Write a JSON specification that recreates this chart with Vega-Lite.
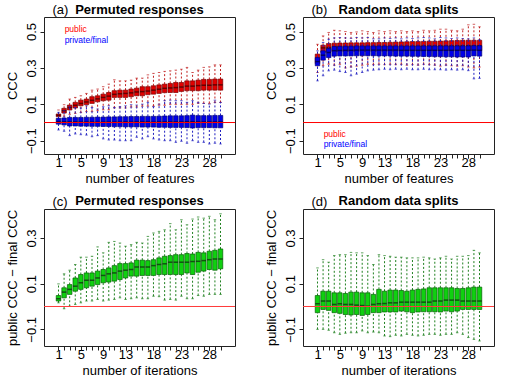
{
"$schema": "https://vega.github.io/schema/vega-lite/v6.json",
"padding": {"left": 5, "top": 3, "right": 0, "bottom": 0},
"columns": 2,
"spacing": {"row": 8, "column": 28},
"config": {
  "font": "Liberation Sans",
  "view": {"stroke": "#222", "strokeWidth": 1},
  "axis": {"domain": false, "grid": false, "tickSize": 4, "tickColor": "#222", "labelFontSize": 13, "titleFontSize": 13, "labelColor": "black", "titleColor": "black", "titleFontWeight": "normal", "labelOverlap": false, "labelFlush": false, "labelFont": "Liberation Sans", "titleFont": "Liberation Sans"},
  "axisX": {"labelPadding": -2, "titlePadding": 3},
  "axisY": {"labelAngle": -90, "labelAlign": "center", "labelBaseline": "bottom", "labelPadding": 2, "titlePadding": 9, "titleBaseline": "alphabetic"},
  "title": {"fontSize": 13, "fontWeight": "bold", "font": "Liberation Sans", "color": "black", "offset": -12.5, "anchor": "middle", "frame": "group"}
},
"datasets": {
"a_pub": [
{"x":1,"lo":0.020,"q1":0.032,"md":0.040,"q3":0.047,"hi":0.069},
{"x":2,"lo":0.035,"q1":0.052,"md":0.065,"q3":0.078,"hi":0.098},
{"x":3,"lo":0.045,"q1":0.069,"md":0.082,"q3":0.096,"hi":0.129},
{"x":4,"lo":0.050,"q1":0.080,"md":0.095,"q3":0.111,"hi":0.138},
{"x":5,"lo":0.055,"q1":0.092,"md":0.105,"q3":0.123,"hi":0.147},
{"x":6,"lo":0.060,"q1":0.098,"md":0.113,"q3":0.129,"hi":0.160},
{"x":7,"lo":0.060,"q1":0.105,"md":0.122,"q3":0.142,"hi":0.178},
{"x":8,"lo":0.065,"q1":0.114,"md":0.130,"q3":0.147,"hi":0.184},
{"x":9,"lo":0.070,"q1":0.120,"md":0.138,"q3":0.156,"hi":0.197},
{"x":10,"lo":0.070,"q1":0.123,"md":0.145,"q3":0.165,"hi":0.211},
{"x":11,"lo":0.080,"q1":0.138,"md":0.155,"q3":0.175,"hi":0.235},
{"x":12,"lo":0.080,"q1":0.138,"md":0.158,"q3":0.178,"hi":0.229},
{"x":13,"lo":0.080,"q1":0.138,"md":0.160,"q3":0.178,"hi":0.229},
{"x":14,"lo":0.085,"q1":0.142,"md":0.163,"q3":0.184,"hi":0.233},
{"x":15,"lo":0.085,"q1":0.147,"md":0.168,"q3":0.189,"hi":0.244},
{"x":16,"lo":0.090,"q1":0.147,"md":0.170,"q3":0.197,"hi":0.244},
{"x":17,"lo":0.090,"q1":0.153,"md":0.173,"q3":0.197,"hi":0.262},
{"x":18,"lo":0.090,"q1":0.156,"md":0.178,"q3":0.202,"hi":0.270},
{"x":19,"lo":0.095,"q1":0.160,"md":0.183,"q3":0.207,"hi":0.275},
{"x":20,"lo":0.095,"q1":0.164,"md":0.188,"q3":0.211,"hi":0.281},
{"x":21,"lo":0.100,"q1":0.165,"md":0.190,"q3":0.215,"hi":0.284},
{"x":22,"lo":0.100,"q1":0.165,"md":0.192,"q3":0.220,"hi":0.288},
{"x":23,"lo":0.100,"q1":0.171,"md":0.195,"q3":0.220,"hi":0.293},
{"x":24,"lo":0.100,"q1":0.175,"md":0.200,"q3":0.229,"hi":0.303},
{"x":25,"lo":0.100,"q1":0.175,"md":0.200,"q3":0.229,"hi":0.275},
{"x":26,"lo":0.105,"q1":0.175,"md":0.203,"q3":0.233,"hi":0.288},
{"x":27,"lo":0.105,"q1":0.178,"md":0.205,"q3":0.237,"hi":0.303},
{"x":28,"lo":0.105,"q1":0.178,"md":0.205,"q3":0.237,"hi":0.306},
{"x":29,"lo":0.110,"q1":0.178,"md":0.207,"q3":0.239,"hi":0.317},
{"x":30,"lo":0.110,"q1":0.178,"md":0.207,"q3":0.239,"hi":0.317}
],
"a_priv": [
{"x":1,"lo":-0.041,"q1":-0.009,"md":0.005,"q3":0.023,"hi":0.056},
{"x":2,"lo":-0.048,"q1":-0.013,"md":0.004,"q3":0.025,"hi":0.065},
{"x":3,"lo":-0.072,"q1":-0.019,"md":0.003,"q3":0.028,"hi":0.087},
{"x":4,"lo":-0.063,"q1":-0.019,"md":0.003,"q3":0.028,"hi":0.083},
{"x":5,"lo":-0.067,"q1":-0.020,"md":0.002,"q3":0.028,"hi":0.080},
{"x":6,"lo":-0.069,"q1":-0.020,"md":0.002,"q3":0.029,"hi":0.092},
{"x":7,"lo":-0.078,"q1":-0.021,"md":0.002,"q3":0.029,"hi":0.083},
{"x":8,"lo":-0.072,"q1":-0.021,"md":0.001,"q3":0.030,"hi":0.074},
{"x":9,"lo":-0.090,"q1":-0.022,"md":0.002,"q3":0.030,"hi":0.087},
{"x":10,"lo":-0.096,"q1":-0.022,"md":0.002,"q3":0.031,"hi":0.092},
{"x":11,"lo":-0.096,"q1":-0.023,"md":0.002,"q3":0.031,"hi":0.083},
{"x":12,"lo":-0.100,"q1":-0.023,"md":0.002,"q3":0.032,"hi":0.087},
{"x":13,"lo":-0.100,"q1":-0.024,"md":0.003,"q3":0.032,"hi":0.092},
{"x":14,"lo":-0.100,"q1":-0.024,"md":0.002,"q3":0.033,"hi":0.098},
{"x":15,"lo":-0.081,"q1":-0.024,"md":0.003,"q3":0.033,"hi":0.096},
{"x":16,"lo":-0.090,"q1":-0.025,"md":0.003,"q3":0.034,"hi":0.101},
{"x":17,"lo":-0.078,"q1":-0.025,"md":0.003,"q3":0.034,"hi":0.111},
{"x":18,"lo":-0.090,"q1":-0.025,"md":0.002,"q3":0.034,"hi":0.087},
{"x":19,"lo":-0.096,"q1":-0.026,"md":0.003,"q3":0.035,"hi":0.101},
{"x":20,"lo":-0.100,"q1":-0.026,"md":0.003,"q3":0.036,"hi":0.120},
{"x":21,"lo":-0.100,"q1":-0.027,"md":0.003,"q3":0.037,"hi":0.123},
{"x":22,"lo":-0.109,"q1":-0.027,"md":0.003,"q3":0.037,"hi":0.120},
{"x":23,"lo":-0.103,"q1":-0.027,"md":0.003,"q3":0.037,"hi":0.120},
{"x":24,"lo":-0.114,"q1":-0.028,"md":0.004,"q3":0.038,"hi":0.111},
{"x":25,"lo":-0.100,"q1":-0.030,"md":0.004,"q3":0.041,"hi":0.120},
{"x":26,"lo":-0.109,"q1":-0.028,"md":0.003,"q3":0.038,"hi":0.111},
{"x":27,"lo":-0.109,"q1":-0.028,"md":0.003,"q3":0.038,"hi":0.105},
{"x":28,"lo":-0.118,"q1":-0.028,"md":0.003,"q3":0.038,"hi":0.101},
{"x":29,"lo":-0.114,"q1":-0.029,"md":0.003,"q3":0.039,"hi":0.123},
{"x":30,"lo":-0.118,"q1":-0.029,"md":0.003,"q3":0.039,"hi":0.111}
],
"b_pub": [
{"x":1,"lo":0.275,"q1":0.324,"md":0.345,"q3":0.376,"hi":0.430},
{"x":2,"lo":0.312,"q1":0.385,"md":0.410,"q3":0.425,"hi":0.476},
{"x":3,"lo":0.321,"q1":0.390,"md":0.412,"q3":0.434,"hi":0.495},
{"x":4,"lo":0.315,"q1":0.390,"md":0.413,"q3":0.436,"hi":0.507},
{"x":5,"lo":0.320,"q1":0.391,"md":0.414,"q3":0.437,"hi":0.504},
{"x":6,"lo":0.300,"q1":0.391,"md":0.414,"q3":0.437,"hi":0.500},
{"x":7,"lo":0.305,"q1":0.391,"md":0.414,"q3":0.438,"hi":0.495},
{"x":8,"lo":0.310,"q1":0.391,"md":0.414,"q3":0.438,"hi":0.498},
{"x":9,"lo":0.315,"q1":0.391,"md":0.415,"q3":0.438,"hi":0.504},
{"x":10,"lo":0.320,"q1":0.391,"md":0.415,"q3":0.439,"hi":0.500},
{"x":11,"lo":0.318,"q1":0.391,"md":0.415,"q3":0.439,"hi":0.495},
{"x":12,"lo":0.320,"q1":0.392,"md":0.416,"q3":0.440,"hi":0.504},
{"x":13,"lo":0.318,"q1":0.392,"md":0.416,"q3":0.440,"hi":0.500},
{"x":14,"lo":0.320,"q1":0.392,"md":0.416,"q3":0.441,"hi":0.504},
{"x":15,"lo":0.318,"q1":0.392,"md":0.417,"q3":0.442,"hi":0.500},
{"x":16,"lo":0.320,"q1":0.392,"md":0.417,"q3":0.443,"hi":0.504},
{"x":17,"lo":0.315,"q1":0.393,"md":0.417,"q3":0.444,"hi":0.500},
{"x":18,"lo":0.318,"q1":0.393,"md":0.418,"q3":0.445,"hi":0.504},
{"x":19,"lo":0.315,"q1":0.393,"md":0.418,"q3":0.445,"hi":0.500},
{"x":20,"lo":0.320,"q1":0.393,"md":0.419,"q3":0.446,"hi":0.507},
{"x":21,"lo":0.318,"q1":0.394,"md":0.419,"q3":0.447,"hi":0.504},
{"x":22,"lo":0.315,"q1":0.394,"md":0.419,"q3":0.447,"hi":0.507},
{"x":23,"lo":0.310,"q1":0.394,"md":0.420,"q3":0.448,"hi":0.513},
{"x":24,"lo":0.315,"q1":0.394,"md":0.420,"q3":0.449,"hi":0.513},
{"x":25,"lo":0.312,"q1":0.394,"md":0.420,"q3":0.450,"hi":0.507},
{"x":26,"lo":0.310,"q1":0.395,"md":0.421,"q3":0.451,"hi":0.504},
{"x":27,"lo":0.312,"q1":0.395,"md":0.421,"q3":0.452,"hi":0.513},
{"x":28,"lo":0.305,"q1":0.395,"md":0.422,"q3":0.452,"hi":0.537},
{"x":29,"lo":0.300,"q1":0.395,"md":0.422,"q3":0.452,"hi":0.540},
{"x":30,"lo":0.305,"q1":0.395,"md":0.422,"q3":0.452,"hi":0.526}
],
"b_priv": [
{"x":1,"lo":0.229,"q1":0.312,"md":0.335,"q3":0.357,"hi":0.394},
{"x":2,"lo":0.257,"q1":0.343,"md":0.370,"q3":0.394,"hi":0.440},
{"x":3,"lo":0.284,"q1":0.357,"md":0.385,"q3":0.407,"hi":0.458},
{"x":4,"lo":0.288,"q1":0.365,"md":0.395,"q3":0.418,"hi":0.465},
{"x":5,"lo":0.280,"q1":0.366,"md":0.396,"q3":0.419,"hi":0.467},
{"x":6,"lo":0.275,"q1":0.366,"md":0.397,"q3":0.420,"hi":0.465},
{"x":7,"lo":0.257,"q1":0.366,"md":0.397,"q3":0.420,"hi":0.463},
{"x":8,"lo":0.266,"q1":0.367,"md":0.398,"q3":0.421,"hi":0.467},
{"x":9,"lo":0.275,"q1":0.367,"md":0.398,"q3":0.421,"hi":0.465},
{"x":10,"lo":0.284,"q1":0.367,"md":0.398,"q3":0.421,"hi":0.467},
{"x":11,"lo":0.288,"q1":0.367,"md":0.398,"q3":0.421,"hi":0.460},
{"x":12,"lo":0.290,"q1":0.366,"md":0.398,"q3":0.421,"hi":0.460},
{"x":13,"lo":0.293,"q1":0.366,"md":0.398,"q3":0.421,"hi":0.465},
{"x":14,"lo":0.290,"q1":0.366,"md":0.398,"q3":0.421,"hi":0.462},
{"x":15,"lo":0.293,"q1":0.365,"md":0.398,"q3":0.421,"hi":0.465},
{"x":16,"lo":0.290,"q1":0.365,"md":0.397,"q3":0.421,"hi":0.460},
{"x":17,"lo":0.293,"q1":0.365,"md":0.397,"q3":0.421,"hi":0.465},
{"x":18,"lo":0.290,"q1":0.364,"md":0.397,"q3":0.421,"hi":0.462},
{"x":19,"lo":0.290,"q1":0.364,"md":0.397,"q3":0.421,"hi":0.465},
{"x":20,"lo":0.293,"q1":0.363,"md":0.397,"q3":0.421,"hi":0.467},
{"x":21,"lo":0.290,"q1":0.363,"md":0.397,"q3":0.421,"hi":0.465},
{"x":22,"lo":0.290,"q1":0.362,"md":0.397,"q3":0.421,"hi":0.460},
{"x":23,"lo":0.290,"q1":0.362,"md":0.397,"q3":0.421,"hi":0.467},
{"x":24,"lo":0.288,"q1":0.361,"md":0.397,"q3":0.421,"hi":0.465},
{"x":25,"lo":0.290,"q1":0.361,"md":0.397,"q3":0.421,"hi":0.462},
{"x":26,"lo":0.288,"q1":0.360,"md":0.397,"q3":0.421,"hi":0.465},
{"x":27,"lo":0.290,"q1":0.360,"md":0.397,"q3":0.421,"hi":0.462},
{"x":28,"lo":0.285,"q1":0.360,"md":0.397,"q3":0.421,"hi":0.460},
{"x":29,"lo":0.240,"q1":0.366,"md":0.398,"q3":0.422,"hi":0.465},
{"x":30,"lo":0.243,"q1":0.365,"md":0.397,"q3":0.422,"hi":0.455}
],
"c": [
{"x":1,"lo":0.016,"q1":0.024,"md":0.034,"q3":0.048,"hi":0.099},
{"x":2,"lo":-0.010,"q1":0.038,"md":0.063,"q3":0.082,"hi":0.143},
{"x":3,"lo":0.001,"q1":0.053,"md":0.075,"q3":0.096,"hi":0.159},
{"x":4,"lo":0.009,"q1":0.067,"md":0.089,"q3":0.125,"hi":0.184},
{"x":5,"lo":0.016,"q1":0.075,"md":0.104,"q3":0.140,"hi":0.216},
{"x":6,"lo":0.024,"q1":0.082,"md":0.115,"q3":0.147,"hi":0.216},
{"x":7,"lo":0.024,"q1":0.089,"md":0.115,"q3":0.147,"hi":0.220},
{"x":8,"lo":0.031,"q1":0.096,"md":0.125,"q3":0.155,"hi":0.261},
{"x":9,"lo":0.024,"q1":0.104,"md":0.136,"q3":0.162,"hi":0.235},
{"x":10,"lo":0.028,"q1":0.107,"md":0.143,"q3":0.169,"hi":0.281},
{"x":11,"lo":0.031,"q1":0.111,"md":0.147,"q3":0.179,"hi":0.285},
{"x":12,"lo":0.038,"q1":0.118,"md":0.155,"q3":0.188,"hi":0.278},
{"x":13,"lo":0.031,"q1":0.125,"md":0.159,"q3":0.188,"hi":0.264},
{"x":14,"lo":0.034,"q1":0.133,"md":0.162,"q3":0.191,"hi":0.271},
{"x":15,"lo":0.038,"q1":0.133,"md":0.173,"q3":0.203,"hi":0.281},
{"x":16,"lo":0.034,"q1":0.136,"md":0.173,"q3":0.203,"hi":0.278},
{"x":17,"lo":0.034,"q1":0.136,"md":0.173,"q3":0.201,"hi":0.307},
{"x":18,"lo":0.045,"q1":0.136,"md":0.179,"q3":0.205,"hi":0.322},
{"x":19,"lo":0.043,"q1":0.140,"md":0.184,"q3":0.213,"hi":0.329},
{"x":20,"lo":0.028,"q1":0.140,"md":0.187,"q3":0.220,"hi":0.336},
{"x":21,"lo":0.031,"q1":0.140,"md":0.194,"q3":0.223,"hi":0.363},
{"x":22,"lo":0.028,"q1":0.140,"md":0.194,"q3":0.227,"hi":0.336},
{"x":23,"lo":0.045,"q1":0.140,"md":0.194,"q3":0.227,"hi":0.380},
{"x":24,"lo":0.034,"q1":0.147,"md":0.194,"q3":0.232,"hi":0.358},
{"x":25,"lo":0.034,"q1":0.140,"md":0.197,"q3":0.230,"hi":0.383},
{"x":26,"lo":0.048,"q1":0.150,"md":0.198,"q3":0.237,"hi":0.392},
{"x":27,"lo":0.045,"q1":0.155,"md":0.201,"q3":0.235,"hi":0.387},
{"x":28,"lo":0.053,"q1":0.162,"md":0.205,"q3":0.242,"hi":0.395},
{"x":29,"lo":0.053,"q1":0.159,"md":0.208,"q3":0.246,"hi":0.380},
{"x":30,"lo":0.053,"q1":0.165,"md":0.208,"q3":0.252,"hi":0.406}
],
"d": [
{"x":1,"lo":-0.100,"q1":-0.027,"md":0.012,"q3":0.048,"hi":0.169},
{"x":2,"lo":-0.100,"q1":-0.013,"md":0.024,"q3":0.067,"hi":0.205},
{"x":3,"lo":-0.104,"q1":-0.017,"md":0.024,"q3":0.067,"hi":0.194},
{"x":4,"lo":-0.115,"q1":-0.027,"md":0.009,"q3":0.060,"hi":0.223},
{"x":5,"lo":-0.122,"q1":-0.030,"md":0.012,"q3":0.060,"hi":0.227},
{"x":6,"lo":-0.117,"q1":-0.035,"md":0.009,"q3":0.057,"hi":0.227},
{"x":7,"lo":-0.115,"q1":-0.037,"md":0.009,"q3":0.063,"hi":0.237},
{"x":8,"lo":-0.115,"q1":-0.035,"md":0.006,"q3":0.063,"hi":0.235},
{"x":9,"lo":-0.107,"q1":-0.039,"md":0.004,"q3":0.060,"hi":0.235},
{"x":10,"lo":-0.115,"q1":-0.035,"md":0.001,"q3":0.060,"hi":0.223},
{"x":11,"lo":-0.112,"q1":-0.027,"md":0.009,"q3":0.053,"hi":0.184},
{"x":12,"lo":-0.115,"q1":-0.027,"md":0.012,"q3":0.075,"hi":0.227},
{"x":13,"lo":-0.129,"q1":-0.024,"md":0.013,"q3":0.067,"hi":0.223},
{"x":14,"lo":-0.132,"q1":-0.024,"md":0.016,"q3":0.072,"hi":0.220},
{"x":15,"lo":-0.126,"q1":-0.024,"md":0.016,"q3":0.072,"hi":0.216},
{"x":16,"lo":-0.129,"q1":-0.020,"md":0.019,"q3":0.070,"hi":0.216},
{"x":17,"lo":-0.122,"q1":-0.023,"md":0.019,"q3":0.067,"hi":0.213},
{"x":18,"lo":-0.126,"q1":-0.027,"md":0.019,"q3":0.072,"hi":0.213},
{"x":19,"lo":-0.129,"q1":-0.024,"md":0.019,"q3":0.075,"hi":0.213},
{"x":20,"lo":-0.126,"q1":-0.023,"md":0.019,"q3":0.077,"hi":0.216},
{"x":21,"lo":-0.122,"q1":-0.023,"md":0.019,"q3":0.082,"hi":0.213},
{"x":22,"lo":-0.122,"q1":-0.023,"md":0.024,"q3":0.082,"hi":0.208},
{"x":23,"lo":-0.126,"q1":-0.024,"md":0.024,"q3":0.082,"hi":0.213},
{"x":24,"lo":-0.122,"q1":-0.020,"md":0.028,"q3":0.082,"hi":0.220},
{"x":25,"lo":-0.122,"q1":-0.023,"md":0.028,"q3":0.082,"hi":0.208},
{"x":26,"lo":-0.115,"q1":-0.020,"md":0.028,"q3":0.079,"hi":0.220},
{"x":27,"lo":-0.122,"q1":-0.013,"md":0.024,"q3":0.079,"hi":0.220},
{"x":28,"lo":-0.136,"q1":-0.013,"md":0.024,"q3":0.082,"hi":0.223},
{"x":29,"lo":-0.144,"q1":-0.013,"md":0.024,"q3":0.085,"hi":0.246},
{"x":30,"lo":-0.151,"q1":-0.013,"md":0.024,"q3":0.085,"hi":0.235}
]
},
"concat": [
{
 "width": 191, "height": 137,
 "title": "Permuted responses",
 "resolve": {"axis": {"x": "independent"}},
 "layer": [
  {"data": {"name": "a_pub"},
   "encoding": {"x": {"field": "x", "type": "quantitative", "scale": {"domain": [-0.7, 31.7], "nice": false, "zero": false}, "title": "number of features", "axis": {"orient": "bottom", "values": [1,5,9,13,18,23,28], "labelOverlap": false}}},
   "layer": [
    {"mark": {"type": "rule", "strokeDash": [2, 2], "color": "#c02020"}, "encoding": {"y": {"field": "lo", "type": "quantitative", "scale": {"domain": [-0.173, 0.58], "nice": false, "zero": false}, "title": "CCC", "axis": {"values": [-0.1, 0, 0.1, 0.2, 0.3, 0.4, 0.5], "format": ".1f", "labelOverlap": false, "labelExpr": "indexof([-0.1, 0.1, 0.3, 0.5], datum.value) >= 0 ? datum.label : ''"}}, "y2": {"field": "q1"}}},
    {"mark": {"type": "rule", "strokeDash": [2, 2], "color": "#c02020"}, "encoding": {"y": {"field": "q3", "type": "quantitative"}, "y2": {"field": "hi"}}},
    {"mark": {"type": "tick", "orient": "horizontal", "size": 2.5, "thickness": 1, "color": "#c02020"}, "encoding": {"y": {"field": "lo", "type": "quantitative"}}},
    {"mark": {"type": "tick", "orient": "horizontal", "size": 2.5, "thickness": 1, "color": "#c02020"}, "encoding": {"y": {"field": "hi", "type": "quantitative"}}},
    {"mark": {"type": "bar", "size": 4.5, "fill": "#e00000", "stroke": "#7a0000", "strokeWidth": 0.7}, "encoding": {"y": {"field": "q1", "type": "quantitative"}, "y2": {"field": "q3"}}},
    {"mark": {"type": "tick", "orient": "horizontal", "size": 4.5, "thickness": 1.5, "color": "#300000"}, "encoding": {"y": {"field": "md", "type": "quantitative"}}}
   ]},
  {"data": {"name": "a_priv"},
   "encoding": {"x": {"field": "x", "type": "quantitative", "axis": null}},
   "layer": [
    {"mark": {"type": "rule", "strokeDash": [2, 2], "color": "#2020c0"}, "encoding": {"y": {"field": "lo", "type": "quantitative"}, "y2": {"field": "q1"}}},
    {"mark": {"type": "rule", "strokeDash": [2, 2], "color": "#2020c0"}, "encoding": {"y": {"field": "q3", "type": "quantitative"}, "y2": {"field": "hi"}}},
    {"mark": {"type": "tick", "orient": "horizontal", "size": 2.5, "thickness": 1, "color": "#2020c0"}, "encoding": {"y": {"field": "lo", "type": "quantitative"}}},
    {"mark": {"type": "tick", "orient": "horizontal", "size": 2.5, "thickness": 1, "color": "#2020c0"}, "encoding": {"y": {"field": "hi", "type": "quantitative"}}},
    {"mark": {"type": "bar", "size": 4.5, "fill": "#0000e8", "stroke": "#00007a", "strokeWidth": 0.7}, "encoding": {"y": {"field": "q1", "type": "quantitative"}, "y2": {"field": "q3"}}},
    {"mark": {"type": "tick", "orient": "horizontal", "size": 4.5, "thickness": 1.5, "color": "#000030"}, "encoding": {"y": {"field": "md", "type": "quantitative"}}}
   ]},
  {"data": {"values": [{"z": 0}]}, "mark": {"type": "rule", "color": "#ff0000", "strokeWidth": 1}, "encoding": {"y": {"field": "z", "type": "quantitative"}}},
  {"data": {"values": [{"t": "public", "s": "public", "x": 2.1, "y": 0.513}, {"t": "private/final", "s": "private", "x": 2.1, "y": 0.454}]},
   "mark": {"type": "text", "align": "left", "baseline": "middle", "fontSize": 8.5},
   "encoding": {"x": {"field": "x", "type": "quantitative", "axis": null}, "y": {"field": "y", "type": "quantitative"}, "text": {"field": "t"}, "color": {"field": "s", "type": "nominal", "scale": {"domain": ["public", "private"], "range": ["#ff0000", "#0000ff"]}, "legend": null}}},
  {"data": {"values": [{"t": "(a)", "x": -0.07, "y": 0.596}]},
   "mark": {"type": "text", "align": "left", "baseline": "alphabetic", "fontSize": 13, "color": "black"},
   "encoding": {"x": {"field": "x", "type": "quantitative", "title": null, "axis": {"orient": "bottom", "values": [1,2,3,4,5,6,7,8,9,10,11,12,13,14,15,16,17,18,19,20,21,22,23,24,25,26,27,28,29,30], "labels": false}}, "y": {"field": "y", "type": "quantitative"}, "text": {"field": "t"}}}
 ]
},
{
 "width": 191, "height": 137,
 "title": "Random data splits",
 "resolve": {"axis": {"x": "independent"}},
 "layer": [
  {"data": {"name": "b_pub"},
   "encoding": {"x": {"field": "x", "type": "quantitative", "scale": {"domain": [-0.7, 31.7], "nice": false, "zero": false}, "title": "number of features", "axis": {"orient": "bottom", "values": [1,5,9,13,18,23,28], "labelOverlap": false}}},
   "layer": [
    {"mark": {"type": "rule", "strokeDash": [2, 2], "color": "#c02020"}, "encoding": {"y": {"field": "lo", "type": "quantitative", "scale": {"domain": [-0.173, 0.58], "nice": false, "zero": false}, "title": "CCC", "axis": {"values": [-0.1, 0, 0.1, 0.2, 0.3, 0.4, 0.5], "format": ".1f", "labelOverlap": false, "labelExpr": "indexof([-0.1, 0.1, 0.3, 0.5], datum.value) >= 0 ? datum.label : ''"}}, "y2": {"field": "q1"}}},
    {"mark": {"type": "rule", "strokeDash": [2, 2], "color": "#c02020"}, "encoding": {"y": {"field": "q3", "type": "quantitative"}, "y2": {"field": "hi"}}},
    {"mark": {"type": "tick", "orient": "horizontal", "size": 2.5, "thickness": 1, "color": "#c02020"}, "encoding": {"y": {"field": "lo", "type": "quantitative"}}},
    {"mark": {"type": "tick", "orient": "horizontal", "size": 2.5, "thickness": 1, "color": "#c02020"}, "encoding": {"y": {"field": "hi", "type": "quantitative"}}},
    {"mark": {"type": "bar", "size": 4.5, "fill": "#e00000", "stroke": "#7a0000", "strokeWidth": 0.7}, "encoding": {"y": {"field": "q1", "type": "quantitative"}, "y2": {"field": "q3"}}},
    {"mark": {"type": "tick", "orient": "horizontal", "size": 4.5, "thickness": 1.5, "color": "#300000"}, "encoding": {"y": {"field": "md", "type": "quantitative"}}}
   ]},
  {"data": {"name": "b_priv"},
   "encoding": {"x": {"field": "x", "type": "quantitative", "axis": null}},
   "layer": [
    {"mark": {"type": "rule", "strokeDash": [2, 2], "color": "#2020c0"}, "encoding": {"y": {"field": "lo", "type": "quantitative"}, "y2": {"field": "q1"}}},
    {"mark": {"type": "rule", "strokeDash": [2, 2], "color": "#2020c0"}, "encoding": {"y": {"field": "q3", "type": "quantitative"}, "y2": {"field": "hi"}}},
    {"mark": {"type": "tick", "orient": "horizontal", "size": 2.5, "thickness": 1, "color": "#2020c0"}, "encoding": {"y": {"field": "lo", "type": "quantitative"}}},
    {"mark": {"type": "tick", "orient": "horizontal", "size": 2.5, "thickness": 1, "color": "#2020c0"}, "encoding": {"y": {"field": "hi", "type": "quantitative"}}},
    {"mark": {"type": "bar", "size": 4.5, "fill": "#0000e8", "stroke": "#00007a", "strokeWidth": 0.7}, "encoding": {"y": {"field": "q1", "type": "quantitative"}, "y2": {"field": "q3"}}},
    {"mark": {"type": "tick", "orient": "horizontal", "size": 4.5, "thickness": 1.5, "color": "#000030"}, "encoding": {"y": {"field": "md", "type": "quantitative"}}}
   ]},
  {"data": {"values": [{"z": 0}]}, "mark": {"type": "rule", "color": "#ff0000", "strokeWidth": 1}, "encoding": {"y": {"field": "z", "type": "quantitative"}}},
  {"data": {"values": [{"t": "public", "s": "public", "x": 2.1, "y": -0.063}, {"t": "private/final", "s": "private", "x": 2.1, "y": -0.118}]},
   "mark": {"type": "text", "align": "left", "baseline": "middle", "fontSize": 8.5},
   "encoding": {"x": {"field": "x", "type": "quantitative", "axis": null}, "y": {"field": "y", "type": "quantitative"}, "text": {"field": "t"}, "color": {"field": "s", "type": "nominal", "scale": {"domain": ["public", "private"], "range": ["#ff0000", "#0000ff"]}, "legend": null}}},
  {"data": {"values": [{"t": "(b)", "x": -0.07, "y": 0.596}]},
   "mark": {"type": "text", "align": "left", "baseline": "alphabetic", "fontSize": 13, "color": "black"},
   "encoding": {"x": {"field": "x", "type": "quantitative", "title": null, "axis": {"orient": "bottom", "values": [1,2,3,4,5,6,7,8,9,10,11,12,13,14,15,16,17,18,19,20,21,22,23,24,25,26,27,28,29,30], "labels": false}}, "y": {"field": "y", "type": "quantitative"}, "text": {"field": "t"}}}
 ]
},
{
 "width": 191, "height": 137,
 "title": "Permuted responses",
 "resolve": {"axis": {"x": "independent"}},
 "layer": [
  {"data": {"name": "c"},
   "encoding": {"x": {"field": "x", "type": "quantitative", "scale": {"domain": [-0.7, 31.7], "nice": false, "zero": false}, "title": "number of iterations", "axis": {"orient": "bottom", "values": [1,5,9,13,18,23,28], "labelOverlap": false}}},
   "layer": [
    {"mark": {"type": "rule", "strokeDash": [2, 2], "color": "#208020"}, "encoding": {"y": {"field": "lo", "type": "quantitative", "scale": {"domain": [-0.173, 0.427], "nice": false, "zero": false}, "title": "public CCC − final CCC", "axis": {"values": [-0.1, 0, 0.1, 0.2, 0.3, 0.4], "format": ".1f", "labelOverlap": false, "labelExpr": "indexof([-0.1, 0.1, 0.3], datum.value) >= 0 ? datum.label : ''"}}, "y2": {"field": "q1"}}},
    {"mark": {"type": "rule", "strokeDash": [2, 2], "color": "#208020"}, "encoding": {"y": {"field": "q3", "type": "quantitative"}, "y2": {"field": "hi"}}},
    {"mark": {"type": "tick", "orient": "horizontal", "size": 2.5, "thickness": 1, "color": "#208020"}, "encoding": {"y": {"field": "lo", "type": "quantitative"}}},
    {"mark": {"type": "tick", "orient": "horizontal", "size": 2.5, "thickness": 1, "color": "#208020"}, "encoding": {"y": {"field": "hi", "type": "quantitative"}}},
    {"mark": {"type": "bar", "size": 4.5, "fill": "#10d010", "stroke": "#006000", "strokeWidth": 0.7}, "encoding": {"y": {"field": "q1", "type": "quantitative"}, "y2": {"field": "q3"}}},
    {"mark": {"type": "tick", "orient": "horizontal", "size": 4.5, "thickness": 1.5, "color": "#102010"}, "encoding": {"y": {"field": "md", "type": "quantitative"}}}
   ]},
  {"data": {"values": [{"z": 0}]}, "mark": {"type": "rule", "color": "#ff3a3a", "strokeWidth": 1}, "encoding": {"y": {"field": "z", "type": "quantitative"}}},
  {"data": {"values": [{"t": "(c)", "x": -0.07, "y": 0.4405}]},
   "mark": {"type": "text", "align": "left", "baseline": "alphabetic", "fontSize": 13, "color": "black"},
   "encoding": {"x": {"field": "x", "type": "quantitative", "title": null, "axis": {"orient": "bottom", "values": [1,2,3,4,5,6,7,8,9,10,11,12,13,14,15,16,17,18,19,20,21,22,23,24,25,26,27,28,29,30], "labels": false}}, "y": {"field": "y", "type": "quantitative"}, "text": {"field": "t"}}}
 ]
},
{
 "width": 191, "height": 137,
 "title": "Random data splits",
 "resolve": {"axis": {"x": "independent"}},
 "layer": [
  {"data": {"name": "d"},
   "encoding": {"x": {"field": "x", "type": "quantitative", "scale": {"domain": [-0.7, 31.7], "nice": false, "zero": false}, "title": "number of iterations", "axis": {"orient": "bottom", "values": [1,5,9,13,18,23,28], "labelOverlap": false}}},
   "layer": [
    {"mark": {"type": "rule", "strokeDash": [2, 2], "color": "#208020"}, "encoding": {"y": {"field": "lo", "type": "quantitative", "scale": {"domain": [-0.173, 0.427], "nice": false, "zero": false}, "title": "public CCC − final CCC", "axis": {"values": [-0.1, 0, 0.1, 0.2, 0.3, 0.4], "format": ".1f", "labelOverlap": false, "labelExpr": "indexof([-0.1, 0.1, 0.3], datum.value) >= 0 ? datum.label : ''"}}, "y2": {"field": "q1"}}},
    {"mark": {"type": "rule", "strokeDash": [2, 2], "color": "#208020"}, "encoding": {"y": {"field": "q3", "type": "quantitative"}, "y2": {"field": "hi"}}},
    {"mark": {"type": "tick", "orient": "horizontal", "size": 2.5, "thickness": 1, "color": "#208020"}, "encoding": {"y": {"field": "lo", "type": "quantitative"}}},
    {"mark": {"type": "tick", "orient": "horizontal", "size": 2.5, "thickness": 1, "color": "#208020"}, "encoding": {"y": {"field": "hi", "type": "quantitative"}}},
    {"mark": {"type": "bar", "size": 4.5, "fill": "#10d010", "stroke": "#006000", "strokeWidth": 0.7}, "encoding": {"y": {"field": "q1", "type": "quantitative"}, "y2": {"field": "q3"}}},
    {"mark": {"type": "tick", "orient": "horizontal", "size": 4.5, "thickness": 1.5, "color": "#102010"}, "encoding": {"y": {"field": "md", "type": "quantitative"}}}
   ]},
  {"data": {"values": [{"z": 0}]}, "mark": {"type": "rule", "color": "#ff3a3a", "strokeWidth": 1}, "encoding": {"y": {"field": "z", "type": "quantitative"}}},
  {"data": {"values": [{"t": "(d)", "x": -0.07, "y": 0.4405}]},
   "mark": {"type": "text", "align": "left", "baseline": "alphabetic", "fontSize": 13, "color": "black"},
   "encoding": {"x": {"field": "x", "type": "quantitative", "title": null, "axis": {"orient": "bottom", "values": [1,2,3,4,5,6,7,8,9,10,11,12,13,14,15,16,17,18,19,20,21,22,23,24,25,26,27,28,29,30], "labels": false}}, "y": {"field": "y", "type": "quantitative"}, "text": {"field": "t"}}}
 ]
}
]
}
